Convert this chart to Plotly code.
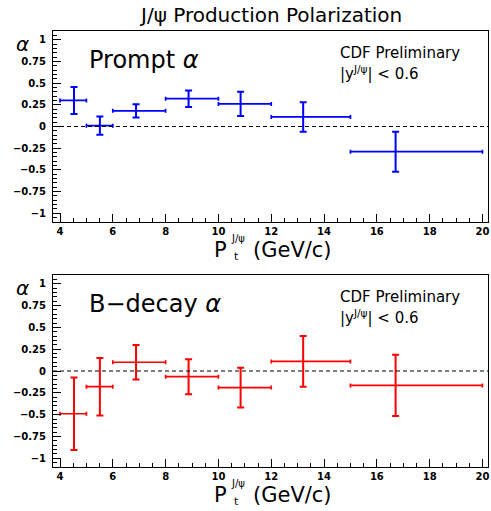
import plotly.graph_objects as go

# pT bins (GeV/c) and bin centres
pt_center = [4.53, 5.51, 6.88, 8.87, 10.84, 13.21, 16.71]
pt_low = [4, 5, 6, 8, 10, 12, 15]
pt_high = [5, 6, 8, 10, 12, 15, 20]

# Prompt J/psi polarization
prompt_alpha = [0.30, 0.01, 0.18, 0.32, 0.26, 0.11, -0.29]
prompt_err = [0.155, 0.105, 0.075, 0.096, 0.14, 0.17, 0.23]

# J/psi from B decays
bdecay_alpha = [-0.49, -0.18, 0.10, -0.065, -0.19, 0.11, -0.165]
bdecay_err = [0.415, 0.33, 0.197, 0.20, 0.228, 0.29, 0.35]

x_ticks = [4, 6, 8, 10, 12, 14, 16, 18, 20]
y_ticks = [1, 0.75, 0.5, 0.25, 0, -0.25, -0.5, -0.75, -1]
y_tick_text = ["1", "0.75", "0.5", "0.25", "0", "\u22120.25", "\u22120.5", "\u22120.75", "\u22121"]

W, H = 491, 511
FONT = "DejaVu Sans"

ex_plus = [h - c for h, c in zip(pt_high, pt_center)]
ex_minus = [c - l for l, c in zip(pt_low, pt_center)]


def px(x):
    return x / W


def py(y):
    return 1 - y / H


def series(vals, errs, color, xa, ya):
    return go.Scatter(
        x=pt_center, y=vals, xaxis=xa, yaxis=ya, mode="markers",
        marker=dict(size=2, color=color, opacity=0), showlegend=False, hoverinfo="skip",
        error_y=dict(type="data", array=errs, symmetric=True, color=color,
                     thickness=2, width=3.5),
        error_x=dict(type="data", array=ex_plus, arrayminus=ex_minus,
                     symmetric=False, color=color, thickness=1.7, width=2),
    )


fig = go.Figure()
fig.add_trace(series(prompt_alpha, prompt_err, "#0000ff", "x", "y"))
fig.add_trace(series(bdecay_alpha, bdecay_err, "#ff0000", "x2", "y2"))

xdom = [px(53), px(488)]
panels = {"top": (31, 222), "bot": (275, 467)}

axis_common = dict(showline=True, linecolor="black", linewidth=1, mirror=True,
                   showgrid=False, zeroline=False, ticks="inside",
                   tickcolor="black", tickwidth=1, ticklen=8,
                   tickfont=dict(family=FONT, size=10, color="black", weight="bold"))

xcfg = dict(range=[3.735, 20.21], tickvals=x_ticks, ticktext=[str(v) for v in x_ticks],
            minor=dict(dtick=0.5, tick0=4, ticks="inside", ticklen=4,
                       tickcolor="black", tickwidth=1, showgrid=False),
            **axis_common)
ycfg = dict(range=[-1.1, 1.1], tickvals=y_ticks, ticktext=y_tick_text,
            ticklabelstandoff=4,
            minor=dict(dtick=0.05, tick0=0, ticks="inside", ticklen=4,
                       tickcolor="black", tickwidth=1, showgrid=False),
            **axis_common)

fig.update_layout(
    width=W, height=H, margin=dict(l=0, r=0, t=0, b=0),
    paper_bgcolor="white", plot_bgcolor="white",
    xaxis=dict(domain=xdom, anchor="y", **xcfg),
    yaxis=dict(domain=[py(222), py(31)], anchor="x", **ycfg),
    xaxis2=dict(domain=xdom, anchor="y2", **xcfg),
    yaxis2=dict(domain=[py(467), py(275)], anchor="x2", **ycfg),
)

# dashed reference line at alpha = 0
for xa, ya in (("x", "y"), ("x2", "y2")):
    fig.add_shape(type="line", xref=f"{xa} domain", yref=ya, x0=0, x1=1, y0=0, y1=0,
                  line=dict(color="black", width=1, dash="4px,3px"))


def text(s, x, y, size, xanchor="center", yanchor="middle"):
    fig.add_annotation(text=s, x=px(x), y=py(y), xref="paper", yref="paper",
                       showarrow=False, xanchor=xanchor, yanchor=yanchor,
                       font=dict(family=FONT, size=size, color="black"))


text("J/\u03c8 Production Polarization", 270, 15, 20)

labels = {"top": "Prompt <i>\u03b1</i>", "bot": "B\u2212decay <i>\u03b1</i>"}
for key, (top, bottom) in panels.items():
    d = top - 31
    text(labels[key], 87, 60 + d, 24, xanchor="left")
    text("CDF Preliminary", 338, 52.7 + d, 15, xanchor="left")
    text("|y<sup>J/\u03c8</sup>| < 0.6", 338, 73.3 + d, 15, xanchor="left")
    text("<i>\u03b1</i>", 22.5, 44 + d, 20)
    # axis title P_t^{J/psi} (GeV/c)
    text("P", 220, bottom + 28, 21)
    text("t", 232, bottom + 34, 11, xanchor="left")
    text("J/\u03c8", 229, bottom + 16, 10, xanchor="left")
    text("(GeV/c)", 292, bottom + 28, 21)

fig.write_html("out.html")
